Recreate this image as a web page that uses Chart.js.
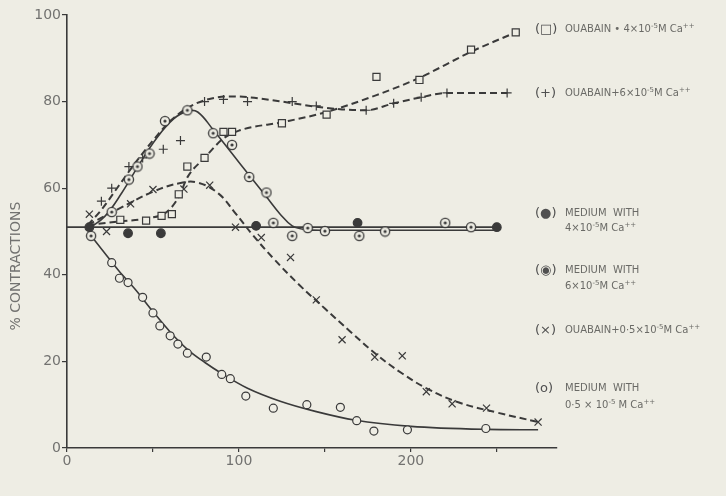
<!DOCTYPE html>
<html><head><meta charset="utf-8">
<script src="https://cdn.jsdelivr.net/npm/chart.js@4/dist/chart.umd.min.js"></script>
<style>
html,body{margin:0;padding:0;background:#eeede4;}
#wrap{position:relative;width:726px;height:496px;overflow:hidden;}
canvas{position:absolute;left:0;top:0;}
.lg{position:absolute;font-family:"DejaVu Sans",sans-serif;font-size:10px;color:#6a6a66;white-space:nowrap;line-height:12px;}
.sym{position:absolute;font-family:"DejaVu Sans",sans-serif;font-size:13px;color:#505050;white-space:nowrap;line-height:14px;}
sup{font-size:7px;vertical-align:4px;line-height:0;}
</style></head><body>
<div id="wrap"><canvas id="c" width="726" height="496"></canvas>
<div class="sym" style="left:535px;top:22px">(□)</div>
<div class="lg" style="left:565px;top:23px">OUABAIN • 4×10<sup>-5</sup>M Ca<sup>++</sup></div>
<div class="sym" style="left:535px;top:86px">(+)</div>
<div class="lg" style="left:565px;top:87px">OUABAIN+6×10<sup>-5</sup>M Ca<sup>++</sup></div>
<div class="sym" style="left:535px;top:206px">(●)</div>
<div class="lg" style="left:565px;top:207px">MEDIUM&nbsp; WITH<br><span style="position:relative;top:3px">4×10<sup>-5</sup>M Ca<sup>++</sup></span></div>
<div class="sym" style="left:535px;top:263px">(◉)</div>
<div class="lg" style="left:565px;top:264px">MEDIUM&nbsp; WITH<br><span style="position:relative;top:4px">6×10<sup>-5</sup>M Ca<sup>++</sup></span></div>
<div class="sym" style="left:535px;top:323px">(×)</div>
<div class="lg" style="left:565px;top:324px">OUABAIN+0·5×10<sup>-5</sup>M Ca<sup>++</sup></div>
<div class="sym" style="left:535px;top:381px">(o)</div>
<div class="lg" style="left:565px;top:382px">MEDIUM&nbsp; WITH<br><span style="position:relative;top:5px">0·5 × 10<sup>-5</sup> M Ca<sup>++</sup></span></div>
</div>
<script>
// ---- tick values ----
const timeTicks = [0, 50, 100, 150, 200, 250];
const timeLabels = ['0', '', '100', '', '200', ''];
const pctTicks = [0, 20, 40, 60, 80, 100];

// ---- (□) ouabain + 4x10-5 M Ca ----
const sqT = [31, 46, 55, 61, 65, 70, 80, 91, 96, 125, 151, 180, 205, 235, 261];
const sqY = [52.7, 52.5, 53.6, 54, 58.6, 65, 67, 73, 73, 75, 77, 85.7, 85, 92, 96];
const sqFitT = [12, 30, 46, 58, 65, 70, 80, 91, 100, 126, 150, 180, 205, 235, 261];
const sqFitY = [51.5, 52.3, 53, 54.5, 58, 62.5, 67, 71.5, 73.3, 75.3, 77.5, 81.5, 85.5, 91.5, 96];

// ---- (+) ouabain + 6x10-5 M Ca ----
const plT = [20, 26, 36, 44, 56, 66, 80, 91, 105, 131, 145, 174, 190, 206, 221, 256];
const plY = [57, 60, 65, 67, 69, 71, 80, 80.5, 80, 80, 79, 78, 79.6, 81, 82, 82];
const plFitT = [12, 20, 30, 40, 50, 60, 70, 80, 95, 106, 130, 145, 160, 174, 190, 206, 221, 256];
const plFitY = [51.5, 55, 60.5, 66, 71, 75.5, 78.5, 80.3, 81.2, 81, 79.7, 78.8, 78.2, 78, 79.6, 81, 82, 82];

// ---- (●) medium with 4x10-5 M Ca ----
const fcT = [13, 35.5, 54.6, 110, 169, 250];
const fcY = [51, 49.6, 49.6, 51.3, 52, 51];
const fcFitT = [0, 250];
const fcFitY = [51, 51];

// ---- (◉) medium with 6x10-5 M Ca ----
const dcT = [14, 26, 36, 41, 48, 57, 70, 85, 96, 106, 116, 120, 131, 140, 150, 170, 185, 220, 235];
const dcY = [49, 54.5, 62, 65, 68, 75.5, 78, 72.7, 70, 62.6, 59, 52, 49, 50.8, 50.1, 49, 50, 52, 51];
const dcFitT = [12, 22, 32, 42, 52, 62, 70, 76, 85, 96, 106, 116, 124, 131, 138, 150, 200, 250];
const dcFitY = [50.5, 53.5, 59, 65.5, 71.5, 76, 77.8, 77.6, 73.5, 68, 63, 58, 54, 51.3, 50.5, 50.3, 50.3, 50.3];

// ---- (×) ouabain + 0.5x10-5 M Ca ----
const xT = [13, 23, 37, 50, 68, 83, 98, 113, 130, 145, 160, 179, 195, 209, 224, 244, 274];
const xY = [54, 50, 56.4, 59.7, 59.8, 60.7, 51, 48.6, 44, 34.2, 25, 21, 21.3, 13, 10.2, 9.2, 6];
const xFitT = [12, 30, 50, 66, 76, 88, 98, 108, 120, 135, 150, 165, 180, 195, 210, 228, 250, 274];
const xFitY = [51.5, 55.2, 59.2, 61.2, 61.3, 58.8, 54.2, 49.2, 43.8, 37.7, 32.2, 26.8, 21.6, 17.2, 13.6, 10.5, 8.2, 6];

// ---- (o) medium with 0.5x10-5 M Ca ----
const ocT = [26, 30.5, 35.5, 44, 50, 54, 60, 64.5, 70, 81, 90, 95, 104, 120, 139.5, 159, 168.5, 178.5, 198, 243.6];
const ocY = [42.8, 39.2, 38.2, 34.8, 31.2, 28.2, 25.9, 24, 21.9, 21, 17, 16, 12, 9.2, 10, 9.4, 6.3, 3.9, 4.2, 4.5];
const ocFitT = [14, 22, 30, 40, 50, 60, 70, 80, 90, 105, 124, 145, 168, 200, 244, 274];
const ocFitY = [49, 45, 41, 36.5, 31.5, 26.8, 22.8, 19.8, 17.2, 13.8, 10.8, 8.4, 6.4, 5, 4.3, 4.2];

const INK = '#3a3a3a';
const BG = '#eeede4';
const pts = (t, y) => t.map((v, i) => ({x: v, y: y[i]}));

// dotted-circle marker
const dotCirc = document.createElement('canvas');
dotCirc.width = 12; dotCirc.height = 12;
(function(){
  const g = dotCirc.getContext('2d');
  g.fillStyle = BG; g.strokeStyle = INK; g.lineWidth = 1.3;
  g.beginPath(); g.arc(6, 6, 4.6, 0, Math.PI * 2); g.fill(); g.stroke();
  g.fillStyle = INK; g.beginPath(); g.arc(6, 6, 1.6, 0, Math.PI * 2); g.fill();
})();

function scatterSet(t, y, style, radius, fill) {
  return {type: 'scatter', data: pts(t, y), showLine: false, order: 0,
    pointStyle: style, pointRadius: radius, pointHoverRadius: radius,
    pointBorderColor: INK, pointBackgroundColor: fill || BG, pointBorderWidth: 1.2};
}
function fitSet(t, y, dashed, smooth) {
  const s = {type: 'line', data: pts(t, y), order: 1, showLine: true,
    borderColor: INK, borderWidth: dashed ? 2 : 1.6, borderDash: dashed ? [7, 4] : [],
    pointRadius: 0, fill: false};
  if (smooth) { s.tension = 0.4; s.cubicInterpolationMode = 'default'; }
  else { s.cubicInterpolationMode = 'monotone'; }
  return s;
}

const titles = {
  id: 'titles',
  afterDraw(chart) {
    const {ctx, scales: {x, y}} = chart;
    ctx.save();
    ctx.fillStyle = '#727270';
    ctx.font = '14px "DejaVu Sans"';
    ctx.textAlign = 'center'; ctx.textBaseline = 'middle';
    ctx.fillText('TIME (MIN)', x.getPixelForValue(130), x.bottom + 39);
    ctx.translate(16, y.getPixelForValue(42));
    ctx.rotate(-Math.PI / 2);
    ctx.fillText('% CONTRACTIONS', 0, 0);
    ctx.restore();
  }
};

new Chart(document.getElementById('c'), {
  type: 'scatter',
  data: {datasets: [
    scatterSet(sqT, sqY, 'rect', 5),
    scatterSet(plT, plY, 'cross', 4.5),
    scatterSet(fcT, fcY, 'circle', 4.3, INK),
    scatterSet(dcT, dcY, dotCirc, 6),
    scatterSet(xT, xY, 'crossRot', 5),
    scatterSet(ocT, ocY, 'circle', 4),
    fitSet(sqFitT, sqFitY, true, false),
    fitSet(plFitT, plFitY, true, false),
    fitSet(fcFitT, fcFitY, false, false),
    fitSet(dcFitT, dcFitY, false, true),
    fitSet(xFitT, xFitY, true, true),
    fitSet(ocFitT, ocFitY, false, false)
  ]},
  options: {
    responsive: false, animation: false, devicePixelRatio: 1,
    layout: {padding: {left: 0, right: 169, top: 15, bottom: 0}},
    plugins: {legend: {display: false}, tooltip: {enabled: false}},
    scales: {
      x: {type: 'linear', min: 0, max: 285,
        afterBuildTicks: s => { s.ticks = timeTicks.map(v => ({value: v})); },
        afterFit: s => { s.height = 48; },
        ticks: {callback: (v) => timeLabels[timeTicks.indexOf(v)] ?? '', color: '#727270',
          font: {family: 'DejaVu Sans', size: 14}, padding: 1, maxRotation: 0, autoSkip: false},
        grid: {display: true, drawOnChartArea: false, drawTicks: true, tickLength: 4, color: INK, lineWidth: 1.2},
        border: {display: true, color: INK, width: 1.6}
      },
      y: {type: 'linear', min: 0, max: 100,
        afterBuildTicks: s => { s.ticks = pctTicks.map(v => ({value: v})); },
        afterFit: s => { s.width = 67; },
        ticks: {color: '#727270', font: {family: 'DejaVu Sans', size: 14}, padding: 1},
        grid: {display: true, drawOnChartArea: false, drawTicks: true, tickLength: 5, color: INK, lineWidth: 1.2},
        border: {display: true, color: INK, width: 1.6}
      }
    }
  },
  plugins: [titles]
});
</script>
</body></html>
